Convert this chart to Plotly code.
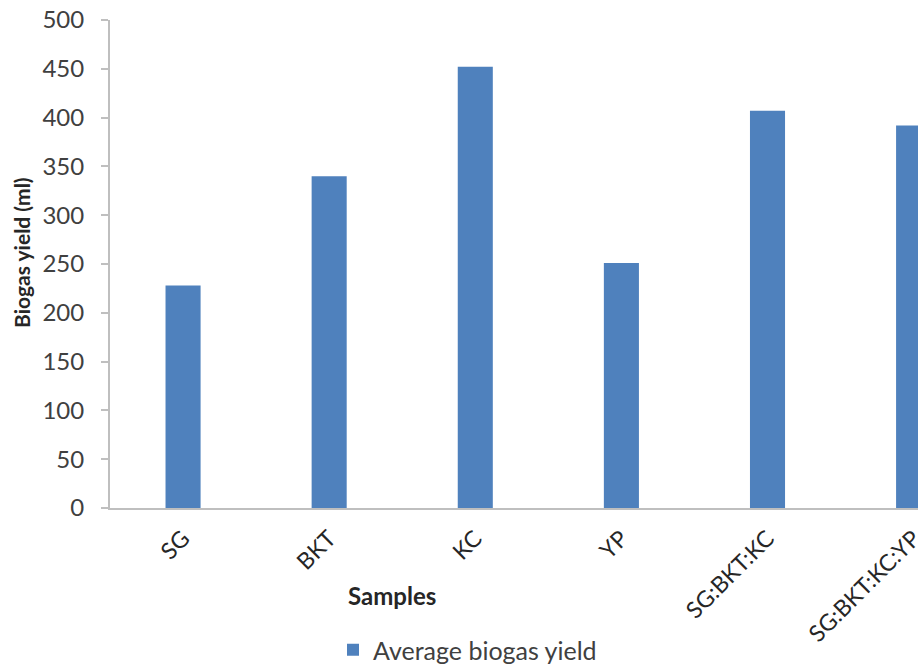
import plotly.graph_objects as go

# Average biogas yield per sample (ml)
samples = ["SG", "BKT", "KC", "YP", "SG:BKT:KC", "SG:BKT:KC:YP"]
biogas_yield = [228, 340, 452, 251, 407, 392]
y_ticks = [0, 50, 100, 150, 200, 250, 300, 350, 400, 450, 500]

bar_color = "#4F81BD"
axis_color = "#BFBFBF"
text_color = "#404040"
font_family = "Lato, Open Sans, sans-serif"

W, H = 918, 666
L, R, T, B = 110, 0, 20, 158
plot_w, plot_h = W - L - R, H - T - B


def px_to_paper(px, py):
    """Convert a pixel position in the page to paper coordinates."""
    return (px - L) / plot_w, (H - B - py) / plot_h


fig = go.Figure()
fig.add_trace(go.Bar(
    x=list(range(len(samples))),
    y=biogas_yield,
    width=0.24,
    marker=dict(color=bar_color, line=dict(width=0)),
    name="Average biogas yield",
    showlegend=True,
))

sx, sy = px_to_paper(392, 595)
yx, yy = px_to_paper(22, 253)

fig.update_layout(
    width=W, height=H,
    margin=dict(l=L, r=R, t=T, b=B, autoexpand=False),
    paper_bgcolor="white", plot_bgcolor="white",
    font=dict(family=font_family, color=text_color),
    showlegend=True,
    legend=dict(
        orientation="h",
        xref="container", yref="container",
        x=333 / W, y=1 - 650 / H, xanchor="left", yanchor="middle",
        font=dict(size=25, color=text_color),
    ),
    xaxis=dict(
        range=[-0.5, 5.03],
        automargin=False,
        tickmode="array",
        tickvals=list(range(len(samples))),
        ticktext=samples,
        tickangle=-45,
        tickfont=dict(size=23, color="#262626"),
        ticklabeloverflow="allow",
        ticklabelstandoff=6,
        showline=True, linecolor=axis_color, linewidth=2,
        showgrid=False, zeroline=False,
        ticks="",
    ),
    yaxis=dict(
        range=[0, 500],
        automargin=False,
        tickmode="array",
        tickvals=y_ticks,
        tickfont=dict(size=24, color=text_color),
        ticklabelstandoff=12,
        showline=True, linecolor=axis_color, linewidth=2,
        ticks="outside", ticklen=7, tickcolor=axis_color, tickwidth=2,
        showgrid=False, zeroline=False,
    ),
    annotations=[
        dict(
            text="<b>Samples</b>", xref="paper", yref="paper",
            x=sx, y=sy, xanchor="center", yanchor="middle",
            showarrow=False, font=dict(size=24, color="#262626"),
        ),
        dict(
            text="<b>Biogas yield (ml)</b>", xref="paper", yref="paper",
            x=yx, y=yy, xanchor="center", yanchor="middle",
            textangle=-90, showarrow=False, font=dict(size=21, color="#262626"),
        ),
    ],
)

fig.write_html("out.html")
